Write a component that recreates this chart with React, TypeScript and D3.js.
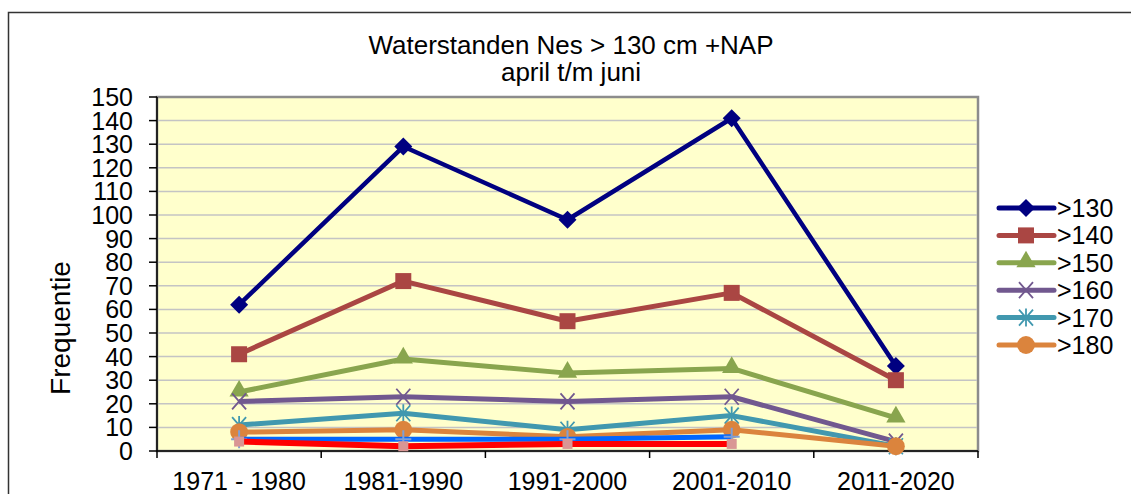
import React from "react";
import * as d3 from "d3";

const periods = ["1971 - 1980", "1981-1990", "1991-2000", "2001-2010", "2011-2020"];
const yTicks = [0, 10, 20, 30, 40, 50, 60, 70, 80, 90, 100, 110, 120, 130, 140, 150];

const above130 = [62, 129, 98, 141, 36];
const above140 = [41, 72, 55, 67, 30];
const above150 = [25, 39, 33, 35, 14];
const above160 = [21, 23, 21, 23, 4];
const above170 = [11, 16, 9, 15, 2];
const above180 = [8, 9, 6, 9, 2];
// two extra series without a legend entry (only the first four periods)
const extraBlue = [5, 5, 5, 6];
const extraRed = [4, 2, 3, 3];

const series = [
  { name: ">130", values: above130, color: "#000080", marker: "diamond", lw: 4.5 },
  { name: ">140", values: above140, color: "#AA4643", marker: "square", lw: 5 },
  { name: ">150", values: above150, color: "#89A54E", marker: "triangle", lw: 5 },
  { name: ">160", values: above160, color: "#71588F", marker: "x", lw: 5 },
  { name: ">170", values: above170, color: "#4198AF", marker: "star", lw: 5 },
  { name: ">180", values: above180, color: "#DB843D", marker: "circle", lw: 5 },
];

const extras = [
  { name: "blue", values: extraBlue, color: "#0066FF", marker: "plus", markerColor: "#7F9FD6", lw: 5 },
  { name: "red", values: extraRed, color: "#FF0000", marker: "smallsquare", markerColor: "#D99694", lw: 6 },
];

const FONT = "'Liberation Sans', Arial, sans-serif";

function Marker({ type, color, x, y }) {
  const t = `translate(${x},${y})`;
  if (type === "diamond")
    return <path transform={t} d="M0,-9L9,0L0,9L-9,0Z" fill={color} />;
  if (type === "square")
    return <path transform={t} d={d3.symbol(d3.symbolSquare, 256)()} fill={color} />;
  if (type === "smallsquare")
    return <path transform={t} d={d3.symbol(d3.symbolSquare, 100)()} fill={color} />;
  if (type === "triangle")
    return <path transform={`translate(${x},${y - 1})`} d={d3.symbol(d3.symbolTriangle, 160)()} fill={color} />;
  if (type === "circle")
    return <path transform={t} d={d3.symbol(d3.symbolCircle, 250)()} fill={color} />;
  if (type === "x")
    return <path transform={t} d="M-7,-8L7,8M-7,8L7,-8" stroke={color} strokeWidth={1.8} fill="none" />;
  if (type === "star")
    return <path transform={t} d="M-7,-8L7,8M-7,8L7,-8M0,-9L0,9" stroke={color} strokeWidth={1.8} fill="none" />;
  if (type === "plus")
    return <path transform={t} d="M-8,0L8,0M0,-9L0,9" stroke={color} strokeWidth={2} fill="none" />;
  return null;
}

export default function App() {
  const width = 1131;
  const height = 494;
  const plot = { left: 157, right: 978, top: 97, bottom: 451 };

  const xScale = d3.scaleBand().domain(periods).range([plot.left, plot.right]);
  const xPos = (i) => xScale(periods[i]) + xScale.bandwidth() / 2;
  const yScale = d3.scaleLinear().domain([0, 150]).range([plot.bottom, plot.top]);

  const line = d3
    .line<number>()
    .x((d, i) => xPos(i))
    .y((d) => yScale(d));

  const legendTop = 208;
  const legendStep = 27.4;

  return (
    <svg
      width={width}
      height={height}
      style={{ position: "absolute", left: 0, top: 0, fontFamily: FONT }}
    >
      <rect width={width} height={height} fill="#fff" />
      {/* chart frame */}
      <rect x={8.5} y={12.5} width={1140} height={500} fill="none" stroke="#333" strokeWidth={1.5} />

      {/* title */}
      <text x={571} y={54} textAnchor="middle" fontSize={26} fill="#000">
        Waterstanden Nes &gt; 130 cm +NAP
      </text>
      <text x={571} y={81} textAnchor="middle" fontSize={26} fill="#000">
        april t/m juni
      </text>

      {/* plot area */}
      <rect
        x={plot.left}
        y={plot.top}
        width={plot.right - plot.left}
        height={plot.bottom - plot.top}
        fill="#FFFFCC"
        stroke="#8C8C8C"
        strokeWidth={2.5}
      />
      {yTicks.filter((v) => v > 0 && v < 150).map((v) => (
        <line
          key={v}
          x1={plot.left}
          x2={plot.right - 1}
          y1={yScale(v)}
          y2={yScale(v)}
          stroke="#C4C4C4"
          strokeWidth={1.5}
        />
      ))}

      {/* y axis */}
      <line x1={plot.left} x2={plot.left} y1={plot.top} y2={plot.bottom + 7} stroke="#000" strokeWidth={1.5} />
      {yTicks.map((v) => (
        <g key={v} transform={`translate(0,${yScale(v)})`}>
          <line x1={plot.left - 8} x2={plot.left} stroke="#000" strokeWidth={1.5} />
          <text x={133} dy="0.36em" textAnchor="end" fontSize={25} fill="#000">
            {v}
          </text>
        </g>
      ))}
      <text
        transform={`translate(70,328) rotate(-90)`}
        textAnchor="middle"
        fontSize={28}
        fill="#000"
      >
        Frequentie
      </text>

      {/* x axis */}
      <line x1={plot.left} x2={plot.right} y1={plot.bottom} y2={plot.bottom} stroke="#000" strokeWidth={1.5} />
      {periods.map((p, i) => (
        <g key={p}>
          <line
            x1={xScale(p) + xScale.bandwidth()}
            x2={xScale(p) + xScale.bandwidth()}
            y1={plot.bottom}
            y2={plot.bottom + 7}
            stroke="#000"
            strokeWidth={1.5}
          />
          <text x={xPos(i)} y={490} textAnchor="middle" fontSize={25} fill="#000">
            {p}
          </text>
        </g>
      ))}

      {/* series */}
      {series.map((s) => (
        <g key={s.name}>
          <path d={line(s.values)} fill="none" stroke={s.color} strokeWidth={s.lw} strokeLinejoin="round" />
          {s.values.map((v, i) => (
            <Marker key={i} type={s.marker} color={s.color} x={xPos(i)} y={yScale(v)} />
          ))}
        </g>
      ))}
      {extras.map((s) => (
        <g key={s.name}>
          <path d={line(s.values)} fill="none" stroke={s.color} strokeWidth={s.lw} strokeLinejoin="round" />
          {s.values.map((v, i) => (
            <Marker key={i} type={s.marker} color={s.markerColor} x={xPos(i)} y={yScale(v)} />
          ))}
        </g>
      ))}

      {/* legend */}
      {series.map((s, i) => (
        <g key={s.name} transform={`translate(0,${legendTop + i * legendStep})`}>
          <line x1={999} x2={1054} stroke={s.color} strokeWidth={5} strokeLinecap="round" />
          <Marker type={s.marker} color={s.color} x={1026} y={0} />
          <text x={1057} dy="0.36em" fontSize={25} fill="#000">
            {s.name}
          </text>
        </g>
      ))}
    </svg>
  );
}
